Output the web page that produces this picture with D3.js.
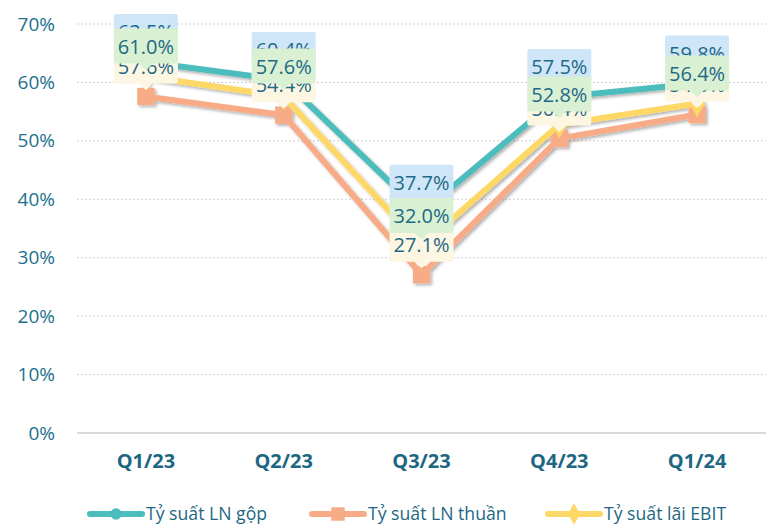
<!DOCTYPE html>
<html>
  <head>
    <meta charset="UTF-8" />
    <title>Tỷ suất lợi nhuận</title>
    <style>
      body { margin: 0; background: #fff; }
      text { font-family: "Open Sans", "Noto Sans", sans-serif; }
    </style>
  </head>
  <body>
    <script src="https://cdn.jsdelivr.net/npm/d3@7/dist/d3.min.js"></script>
    <script>
      var quarters = ["Q1/23", "Q2/23", "Q3/23", "Q4/23", "Q1/24"];
      var grossMargin = [63.5, 60.4, 37.7, 57.5, 59.8];   // Tỷ suất LN gộp
      var netMargin = [57.6, 54.4, 27.1, 50.4, 54.5];     // Tỷ suất LN thuần
      var ebitMargin = [61.0, 57.6, 32.0, 52.8, 56.4];    // Tỷ suất lãi EBIT
      var yTicks = [0, 10, 20, 30, 40, 50, 60, 70];

      var series = [
        { name: "Tỷ suất LN gộp", values: grossMargin, color: "#4dbcbc", box: "#cfe5f8", shape: d3.symbolCircle, size: 170 },
        { name: "Tỷ suất LN thuần", values: netMargin, color: "#f7ab86", box: "#fdf6e2", shape: d3.symbolSquare, size: 300 },
        { name: "Tỷ suất lãi EBIT", values: ebitMargin, color: "#fed866", box: "#d9f1d2", shape: d3.symbolDiamond, size: 220 }
      ];

      var width = 766, height = 525;
      var svg = d3.select("body").append("svg")
                  .attr("width", width)
                  .attr("height", height);

      var defs = svg.append("defs");
      var shadow = defs.append("filter").attr("id", "shadow")
                  .attr("x", "-20%").attr("y", "-20%").attr("width", "140%").attr("height", "140%");
      shadow.append("feDropShadow")
            .attr("dx", 2).attr("dy", 2).attr("stdDeviation", 1.5)
            .attr("flood-color", "#000").attr("flood-opacity", 0.3);

      var x = d3.scaleBand().domain(quarters).range([77, 766]);
      var y = d3.scaleLinear().domain([0, 70]).range([433, 24]);

      // grid
      svg.append("g").selectAll("line")
        .data(yTicks.filter(function(t) { return t > 0; }))
        .enter().append("line")
        .attr("x1", 77).attr("x2", 766)
        .attr("y1", function(d) { return y(d); })
        .attr("y2", function(d) { return y(d); })
        .attr("stroke", "#cfcfcf")
        .attr("stroke-width", 1)
        .attr("stroke-dasharray", "2,2");

      svg.append("line")
        .attr("x1", 77).attr("x2", 766)
        .attr("y1", y(0)).attr("y2", y(0))
        .attr("stroke", "#d9d9d9").attr("stroke-width", 2);

      // y axis
      var yAxis = d3.axisLeft(y).tickValues(yTicks)
                    .tickFormat(function(d) { return d + "%"; })
                    .tickSize(0).tickPadding(0);
      var yg = svg.append("g").attr("transform", "translate(55,0)").call(yAxis);
      yg.select(".domain").remove();
      yg.selectAll("text")
        .attr("fill", "#21708c")
        .attr("font-size", "19px")
        .attr("font-family", "'Open Sans', sans-serif");

      // x axis
      var xAxis = d3.axisBottom(x).tickSize(0).tickPadding(0);
      var xg = svg.append("g").attr("transform", "translate(0,454)").call(xAxis);
      xg.select(".domain").remove();
      xg.selectAll("text")
        .attr("fill", "#1e6783")
        .attr("font-size", "20px")
        .attr("font-weight", "bold")
        .attr("font-family", "'Open Sans', sans-serif");

      var line = d3.line()
                   .x(function(d, i) { return x(quarters[i]) + x.bandwidth() / 2; })
                   .y(function(d) { return y(d); });

      var lineGroup = svg.append("g").attr("filter", "url(#shadow)");
      series.forEach(function(s) {
        lineGroup.append("path")
          .datum(s.values)
          .attr("d", line)
          .attr("fill", "none")
          .attr("stroke", s.color)
          .attr("stroke-width", 6)
          .attr("stroke-linejoin", "miter");
        lineGroup.selectAll(null)
          .data(s.values)
          .enter().append("path")
          .attr("d", d3.symbol().type(s.shape).size(s.size))
          .attr("transform", function(d, i) {
            return "translate(" + (x(quarters[i]) + x.bandwidth() / 2) + "," + y(d) + ")";
          })
          .attr("fill", s.color);
      });

      // data labels (callouts) - gộp first, then thuần, EBIT on top
      var labelGroup = svg.append("g");
      series.forEach(function(s) {
        var g = labelGroup.selectAll(null)
          .data(s.values)
          .enter().append("g")
          .attr("transform", function(d, i) {
            return "translate(" + (x(quarters[i]) + x.bandwidth() / 2) + "," + y(d) + ")";
          });
        g.append("path")
          .attr("d", "M-30,-46 h60 v31 h-24 l-6,6 l-6,-6 h-24 Z")
          .attr("fill", s.box)
          .attr("stroke", s.box)
          .attr("stroke-width", 4)
          .attr("stroke-linejoin", "round");
        g.append("text")
          .attr("y", -30)
          .attr("dy", "0.36em")
          .attr("text-anchor", "middle")
          .attr("fill", "#1d6a86")
          .attr("font-size", "20px")
          .text(function(d) { return d.toFixed(1) + "%"; });
      });

      // legend
      var legendX = [88, 310, 546];
      var legend = svg.append("g");
      series.forEach(function(s, i) {
        var lg = legend.append("g").attr("transform", "translate(" + legendX[i] + ",514)");
        lg.append("line")
          .attr("x1", 2).attr("x2", 54)
          .attr("stroke", s.color).attr("stroke-width", 6)
          .attr("stroke-linecap", "round");
        lg.append("path")
          .attr("d", d3.symbol().type(s.shape).size(s.size * 0.6))
          .attr("transform", "translate(28,0)")
          .attr("fill", s.color);
        lg.append("text")
          .attr("transform", "translate(58,0) scale(0.98,1)")
          .attr("dy", "0.35em")
          .attr("fill", "#1e6783")
          .attr("font-size", "18px")
          .text(s.name);
      });
    </script>
  </body>
</html>
